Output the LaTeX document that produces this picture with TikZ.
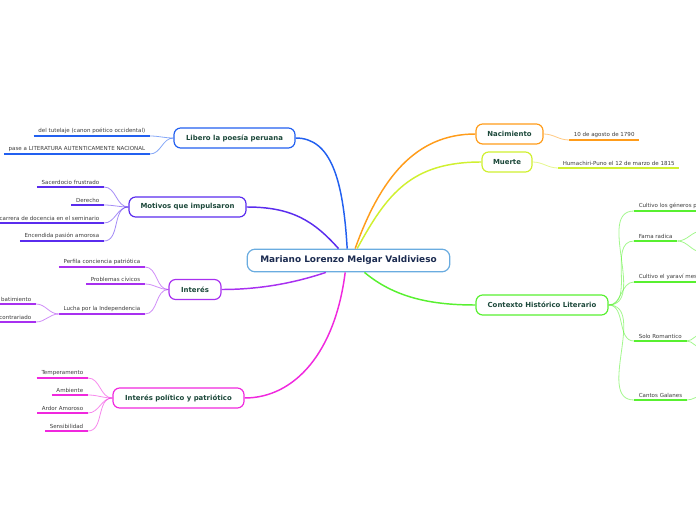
\documentclass[tikz,border=0pt]{standalone}
\usepackage{fontspec}
\setmainfont{DejaVu Sans}
\usetikzlibrary{shapes.geometric}

\definecolor{rootcol}{RGB}{106,172,224}
\definecolor{navy}{RGB}{27,43,80}
\definecolor{topictxt}{RGB}{28,72,58}
\definecolor{leaftxt}{RGB}{60,60,60}
\definecolor{libcol}{RGB}{34,96,240}
\definecolor{motcol}{RGB}{90,44,238}
\definecolor{intcol}{RGB}{168,48,240}
\definecolor{polcol}{RGB}{240,40,222}
\definecolor{naccol}{RGB}{255,156,26}
\definecolor{muecol}{RGB}{208,240,48}
\definecolor{ctxcol}{RGB}{88,240,48}

\tikzstyle{root} = [draw=rootcol, fill=white, line width=0.9pt, rounded corners=6pt, minimum width=152pt, minimum height=17pt, inner sep=0pt, text=navy, font=\bfseries\fontsize{6.7}{7.5}\selectfont]
\tikzstyle{topic} = [fill=white, line width=0.9pt, rounded corners=5pt, minimum height=15pt, inner sep=0pt, text=topictxt, font=\bfseries\fontsize{5.2}{6}\selectfont]
\tikzstyle{leaf} = [inner xsep=3.4pt, inner ysep=1.6pt, text=leaftxt, font=\fontsize{4.15}{4.8}\selectfont]
\tikzstyle{uline} = [line width=1.4pt]
\tikzstyle{trunk} = [line width=1.1pt]
\tikzstyle{twig} = [line width=0.6pt, draw opacity=0.55]

\begin{document}
\begin{tikzpicture}[x=0.75pt,y=0.75pt,yscale=-1,xscale=1]
\useasboundingbox (0,0) rectangle (696,520);
\coordinate (rim) at (700,0);

% Central Node
\node[root] (mlm) at (348.5,260.5) {Mariano Lorenzo Melgar Valdivieso};

% Main Topics
\node[topic, draw=libcol, minimum width=90.75pt] (lib) at (234.5,138) {Libero la poesía peruana};
\node[topic, draw=motcol, minimum width=87.75pt] (mot) at (187.5,207) {Motivos que impulsaron};
\node[topic, draw=intcol, minimum width=39pt] (int) at (195,289.5) {Interés};
\node[topic, draw=polcol, minimum width=98.25pt] (pol) at (178.5,398) {Interés político y patriótico};
\node[topic, draw=naccol, minimum width=50.25pt] (nac) at (509.5,134) {Nacimiento};
\node[topic, draw=muecol, minimum width=37.5pt] (mue) at (507,162) {Muerte};
\node[topic, draw=ctxcol, minimum width=99pt] (ctx) at (542,305) {Contexto Histórico Literario};

% Main Connectors
\draw[trunk, libcol] ([xshift=-1pt]mlm.north) .. controls +(-4,-70) and +(35,0) .. (lib.east);
\draw[trunk, motcol] ([xshift=-7.5pt]mlm.north) .. controls +(-25,-28) and +(45,0) .. (mot.east);
\draw[trunk, naccol] ([xshift=5pt]mlm.north) .. controls +(25,-70) and +(-60,0) .. (nac.west);
\draw[trunk, muecol] ([xshift=6.5pt]mlm.north) .. controls +(30,-55) and +(-70,0) .. (mue.west);
\draw[trunk, intcol] ([xshift=-17pt]mlm.south) .. controls +(-30,10) and +(40,0) .. (int.east);
\draw[trunk, polcol] ([xshift=-2.5pt]mlm.south) .. controls +(-10,80) and +(50,0) .. (pol.east);
\draw[trunk, ctxcol] ([xshift=12pt]mlm.south) .. controls +(30,25) and +(-45,0) .. (ctx.west);

% Libero la poesia peruana
\node[leaf, anchor=south east] (tut) at (150,136) {del tutelaje (canon poético occidental)};
\node[leaf, anchor=south east] (pas) at (150,154) {pase a LITERATURA AUTENTICAMENTE NACIONAL};
\foreach \n in {tut,pas}{
  \draw[uline, libcol] (\n.south west) -- (\n.south east);
  \draw[twig, libcol] (\n.south east) to[out=0,in=180] (lib.west);
}

% Motivos que impulsaron
\node[leaf, anchor=south east] (sac) at (104,187) {Sacerdocio frustrado};
\node[leaf, anchor=south east] (der) at (104,205) {Derecho};
\node[leaf, anchor=south east] (doc) at (104,223) {carrera de docencia en el seminario};
\node[leaf, anchor=south east] (enc) at (104,241) {Encendida pasión amorosa};
\foreach \n in {sac,der,doc,enc}{
  \draw[uline, motcol] (\n.south west) -- (\n.south east);
  \draw[twig, motcol] (\n.south east) to[out=0,in=180] (mot.west);
}

% Interes
\node[leaf, anchor=south east] (per) at (145,267) {Perfila conciencia patriótica};
\node[leaf, anchor=south east] (civ) at (145,284) {Problemas cívicos};
\node[leaf, anchor=south east] (luc) at (145,314) {Lucha por la Independencia};
\foreach \n in {per,civ,luc}{
  \draw[uline, intcol] (\n.south west) -- (\n.south east);
  \draw[twig, intcol] (\n.south east) to[out=0,in=180] (int.west);
}
\node[leaf, anchor=south east] (aba) at (36,304) {batimiento};
\node[leaf, anchor=south east] (con) at (36,322) {contrariado};
\foreach \n in {aba,con}{
  \draw[uline, intcol] (\n.south west) -- (\n.south east);
  \draw[twig, intcol] (\n.south east) to[out=0,in=180] (luc.south west);
}

% Interes politico y patriotico
\node[leaf, anchor=south east] (tem) at (88,378) {Temperamento};
\node[leaf, anchor=south east] (amb) at (88,395) {Ambiente};
\node[leaf, anchor=south east] (ard) at (88,413) {Ardor Amoroso};
\node[leaf, anchor=south east] (sen) at (88,431) {Sensibilidad};
\foreach \n in {tem,amb,ard,sen}{
  \draw[uline, polcol] (\n.south west) -- (\n.south east);
  \draw[twig, polcol] (\n.south east) to[out=0,in=180] (pol.west);
}

% Nacimiento / Muerte
\node[leaf, anchor=south west] (fec) at (569,140) {10 de agosto de 1790};
\draw[uline, naccol] (fec.south west) -- (fec.south east);
\draw[twig, naccol] (nac.east) to[out=0,in=180] (fec.south west);
\node[leaf, anchor=south west] (hum) at (558,168) {Humachiri-Puno el 12 de marzo de 1815};
\draw[uline, muecol] (hum.south west) -- (hum.south east);
\draw[twig, muecol] (mue.east) to[out=0,in=180] (hum.south west);

% Contexto Historico Literario
\node[leaf, anchor=south west] (gen) at (634,211) {Cultivo los géneros p};
\node[leaf, anchor=south west] (fam) at (634,241) {Fama radica};
\node[leaf, anchor=south west] (yar) at (634,282) {Cultivo el yaraví mes};
\node[leaf, anchor=south west] (rom) at (634,341) {Solo Romantico};
\node[leaf, anchor=south west] (gal) at (634,400) {Cantos Galanes};
\foreach \n in {gen,yar}
  \draw[uline, ctxcol] (\n.south west) -- (\n.south west -| rim);
\foreach \n in {fam,rom,gal}
  \draw[uline, ctxcol] (\n.south west) -- (\n.south east);
\foreach \n in {gen,fam,yar,rom,gal}
  \draw[twig, ctxcol] (ctx.east) to[out=0,in=180] (\n.south west);
\coordinate (fa1) at (702,231);
\coordinate (fa2) at (702,252);
\coordinate (ro1) at (702,334);
\coordinate (ro2) at (702,348);
\coordinate (ga1) at (702,396);
\draw[twig, ctxcol] (fam.south east) to[out=0,in=180] (fa1);
\draw[twig, ctxcol] (fam.south east) to[out=0,in=180] (fa2);
\draw[twig, ctxcol] (rom.south east) to[out=0,in=180] (ro1);
\draw[twig, ctxcol] (rom.south east) to[out=0,in=180] (ro2);
\draw[twig, ctxcol] (gal.south east) to[out=0,in=180] (ga1);

\end{tikzpicture}
\end{document}
